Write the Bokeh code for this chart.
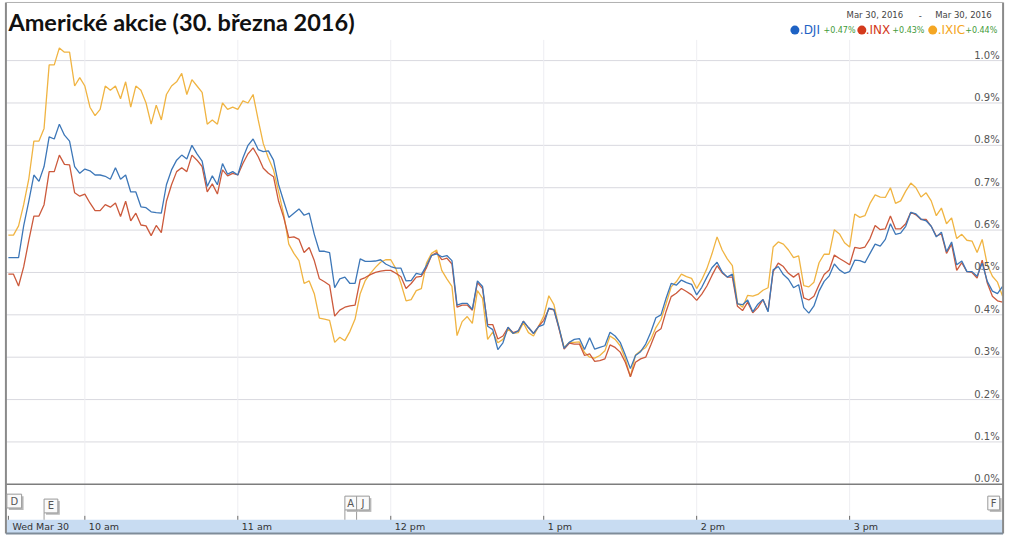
from bokeh.plotting import figure
from bokeh.models import Range1d, ColumnDataSource
from bokeh.embed import file_html
from bokeh.resources import INLINE
from bokeh.core.properties import value

# ---------------- data (percent change vs. previous close, 2-minute samples from 9:30) ----------------
minutes = list(range(0, 392, 2))  # minutes after 9:30, up to 16:00

dji = [0.535, 0.535, 0.535, 0.61, 0.668, 0.73, 0.715, 0.75, 0.82, 0.815, 0.85, 0.824, 0.81, 0.75, 0.734,
       0.744, 0.74, 0.73, 0.73, 0.727, 0.72, 0.747, 0.72, 0.73, 0.69, 0.69, 0.655, 0.653, 0.643, 0.641,
       0.64, 0.707, 0.742, 0.765, 0.777, 0.768, 0.80, 0.78, 0.763, 0.703, 0.728, 0.707, 0.757, 0.732, 0.738,
       0.73, 0.77, 0.80, 0.815, 0.79,
       0.785, 0.787, 0.765, 0.707, 0.668, 0.63, 0.64, 0.65, 0.635, 0.64, 0.59, 0.55, 0.55, 0.547, 0.464,
       0.485, 0.489, 0.474, 0.474, 0.532, 0.526, 0.526, 0.527, 0.53, 0.52, 0.514, 0.51, 0.51, 0.48, 0.481,
       0.498, 0.495, 0.516, 0.54, 0.544, 0.537, 0.54, 0.528, 0.423, 0.427, 0.427, 0.413, 0.48, 0.467, 0.373,
       0.365, 0.318, 0.334,
       0.371, 0.356, 0.362, 0.385, 0.37, 0.356, 0.372, 0.377, 0.416, 0.412, 0.37, 0.321, 0.335, 0.342, 0.344,
       0.318, 0.346, 0.319, 0.323, 0.327, 0.359, 0.35, 0.335, 0.305, 0.273, 0.304, 0.313, 0.331, 0.359, 0.393,
       0.40, 0.439, 0.474, 0.47, 0.482, 0.476, 0.472, 0.447, 0.465, 0.489, 0.511, 0.524, 0.501, 0.489, 0.496,
       0.426, 0.424,
       0.435, 0.407, 0.425, 0.436, 0.407, 0.506, 0.514, 0.495, 0.484, 0.464, 0.471, 0.417, 0.404, 0.421, 0.456,
       0.479, 0.492, 0.52, 0.506, 0.498, 0.502, 0.529, 0.528, 0.523, 0.545, 0.567, 0.562, 0.578, 0.615, 0.59,
       0.593, 0.609, 0.642, 0.638, 0.626, 0.622, 0.609, 0.584, 0.595, 0.549, 0.572, 0.518, 0.527, 0.502, 0.502,
       0.491, 0.522, 0.479, 0.456, 0.45, 0.467]

inx = [0.496, 0.496, 0.468, 0.513, 0.575, 0.633, 0.633, 0.66, 0.738, 0.738, 0.777, 0.755, 0.754, 0.688, 0.68,
       0.685, 0.664, 0.646, 0.646, 0.66, 0.654, 0.664, 0.632, 0.668, 0.622, 0.64, 0.612, 0.61, 0.587, 0.611,
       0.594, 0.668, 0.707, 0.738, 0.747, 0.738, 0.777, 0.765, 0.75, 0.69, 0.709, 0.685, 0.742, 0.728, 0.734,
       0.73, 0.757, 0.78, 0.794, 0.773,
       0.746, 0.734, 0.726, 0.668, 0.63, 0.582, 0.584, 0.578, 0.547, 0.559, 0.528, 0.485, 0.478, 0.47, 0.397,
       0.411, 0.418, 0.421, 0.423, 0.483, 0.488, 0.495, 0.50, 0.503, 0.505, 0.505, 0.498, 0.49, 0.462, 0.474,
       0.489, 0.491, 0.511, 0.54, 0.547, 0.53, 0.534, 0.52, 0.418, 0.423, 0.423, 0.411, 0.476, 0.462, 0.377,
       0.377, 0.343, 0.35,
       0.37, 0.358, 0.362, 0.385, 0.37, 0.356, 0.373, 0.387, 0.414, 0.412, 0.367, 0.319, 0.333, 0.331, 0.331,
       0.304, 0.308, 0.29, 0.292, 0.296, 0.329, 0.323, 0.312, 0.288, 0.254, 0.288, 0.296, 0.30, 0.329, 0.359,
       0.367, 0.408, 0.443, 0.451, 0.462, 0.455, 0.447, 0.434, 0.449, 0.468, 0.493, 0.516, 0.499, 0.489, 0.489,
       0.42, 0.41,
       0.43, 0.405, 0.417, 0.436, 0.409, 0.502, 0.522, 0.514, 0.498, 0.489, 0.498, 0.44, 0.435, 0.444, 0.471,
       0.495, 0.506, 0.541, 0.533, 0.526, 0.518, 0.559, 0.557, 0.56, 0.58, 0.611, 0.601, 0.603, 0.633, 0.603,
       0.603, 0.615, 0.642, 0.636, 0.625, 0.625, 0.609, 0.586, 0.591, 0.545, 0.567, 0.505, 0.523, 0.502, 0.5,
       0.487, 0.529, 0.475, 0.444, 0.433, 0.43]

ixic = [0.588, 0.588, 0.61, 0.66, 0.72, 0.81, 0.81, 0.84, 0.99, 0.99, 1.03, 1.02, 1.02, 0.94, 0.96,
        0.94, 0.89, 0.87, 0.885, 0.94, 0.93, 0.94, 0.91, 0.95, 0.89, 0.94, 0.93, 0.90, 0.85, 0.895,
        0.86, 0.92, 0.94, 0.95, 0.97, 0.92, 0.955, 0.94, 0.925, 0.85, 0.86, 0.85, 0.90, 0.885, 0.89,
        0.885, 0.905, 0.90, 0.92, 0.86,
        0.804, 0.77, 0.742, 0.69, 0.637, 0.567, 0.545, 0.528, 0.474, 0.48, 0.45, 0.392, 0.39, 0.387, 0.335,
        0.347, 0.339, 0.361, 0.39, 0.45, 0.481, 0.498, 0.512, 0.524, 0.53, 0.53, 0.509, 0.474, 0.433, 0.436,
        0.457, 0.462, 0.522, 0.545, 0.553, 0.505, 0.485, 0.467, 0.351, 0.384, 0.396, 0.38, 0.457, 0.439, 0.342,
        0.359, 0.334, 0.342,
        0.366, 0.356, 0.358, 0.381, 0.358, 0.35, 0.373, 0.397, 0.445, 0.424, 0.37, 0.323, 0.335, 0.335, 0.336,
        0.311, 0.30, 0.298, 0.304, 0.315, 0.35, 0.342, 0.327, 0.296, 0.254, 0.305, 0.315, 0.323, 0.342, 0.37,
        0.389, 0.426, 0.466, 0.478, 0.496, 0.49, 0.486, 0.462, 0.483, 0.509, 0.544, 0.584, 0.553, 0.532, 0.516,
        0.428, 0.418,
        0.446, 0.444, 0.448, 0.458, 0.464, 0.56, 0.572, 0.567, 0.553, 0.535, 0.539, 0.469, 0.466, 0.477, 0.523,
        0.543, 0.543, 0.601, 0.591, 0.57, 0.56, 0.638, 0.63, 0.634, 0.663, 0.683, 0.678, 0.677, 0.70, 0.663,
        0.669, 0.692, 0.711, 0.70, 0.678, 0.688, 0.669, 0.634, 0.652, 0.615, 0.629, 0.58, 0.59, 0.576, 0.574,
        0.547, 0.578, 0.518, 0.491, 0.477, 0.444]

series_names = [".DJI", ".INX", ".IXIC"]
series_changes = ["+0.47%", "+0.43%", "+0.44%"]

y_ticks = [0.0, 0.1, 0.2, 0.3, 0.4, 0.5, 0.6, 0.7, 0.8, 0.9, 1.0]
y_tick_labels = ["0.0%", "0.1%", "0.2%", "0.3%", "0.4%", "0.5%", "0.6%", "0.7%", "0.8%", "0.9%", "1.0%"]

x_ticks = [0, 30, 90, 150, 210, 270, 330]
x_tick_labels = ["Wed Mar 30", "10 am", "11 am", "12 pm", "1 pm", "2 pm", "3 pm"]

flag_times = [-0.6, 14, 132, 136.6, 384.2]
flag_labels = ["D", "E", "A", "J", "F"]

title_text = "Americké akcie (30. března 2016)"
date_from = "Mar 30, 2016"
date_to = "Mar 30, 2016"

assert len(dji) == len(minutes) and len(inx) == len(minutes) and len(ixic) == len(minutes)

# ---------------- layout helpers (reference-picture pixels -> data coordinates) ----------------
W, H = 1008, 538
PX_PER_MIN = 1010 / 390.0   # horizontal scale of the time axis
PX_PER_PCT = 430.0          # vertical scale: pixels per 1 %


def xd(px):
    return (px - 8) / PX_PER_MIN


def yd(py):
    return (491 - py) / PX_PER_PCT


def wd(pxw):
    return pxw / PX_PER_MIN


def hd(pxh):
    return pxh / PX_PER_PCT


p = figure(width=W, height=H, x_range=Range1d(xd(0), xd(1024)), y_range=Range1d(yd(546), yd(0)),
           output_backend="svg", toolbar_location=None, min_border=0,
           x_axis_location=None, y_axis_location=None, outline_line_color=None,
           background_fill_color="white", border_fill_color="white")
p.grid.visible = False

FONT = value("DejaVu Sans")
L, R = xd(5.5), xd(1018.5)

# horizontal gridlines
n = len(y_ticks) - 1
p.segment(x0=[L] * n, x1=[R] * n, y0=y_ticks[1:], y1=y_ticks[1:], line_color="#d9d9df", line_width=1)
# vertical gridlines (hours)
hours = x_ticks[1:]
p.segment(x0=hours, x1=hours, y0=[yd(523)] * len(hours), y1=[yd(40)] * len(hours),
          line_color="#eeeef2", line_width=1)

# series lines
src = ColumnDataSource(dict(t=minutes, dji=dji, inx=inx, ixic=ixic))
p.line("t", "ixic", source=src, line_color="#f0b442", line_width=1.3)
p.line("t", "inx", source=src, line_color="#cc5a3c", line_width=1.3)
p.line("t", "dji", source=src, line_color="#3d77b8", line_width=1.3)

# zero baseline
p.segment(x0=[L], x1=[R], y0=[0], y1=[0], line_color="#7d7d7d", line_width=1.5)

# y labels inside the plot, right aligned above the gridlines
p.text(x=[xd(1015)] * len(y_ticks), y=y_ticks, text=y_tick_labels,
       text_align="right", text_baseline="bottom", text_font=FONT, text_font_size="10px",
       text_color="#555555")

# time band at the bottom
p.quad(left=[L], right=[R], bottom=[yd(541)], top=[yd(527)], fill_color="#c8dcf2", line_color=None)
p.segment(x0=x_ticks, x1=x_ticks, y0=[yd(523)] * len(x_ticks), y1=[yd(527)] * len(x_ticks),
          line_color="#666666", line_width=1)
p.text(x=x_ticks, y=[yd(534)] * len(x_ticks), text=x_tick_labels, x_offset=4,
       text_align="left", text_baseline="middle", text_font=FONT, text_font_size="9.5px",
       text_color="#333333")

# outer frame
p.segment(x0=[L, R, L, L], x1=[L, R, R, R], y0=[yd(2), yd(2), yd(2), yd(541)],
          y1=[yd(541), yd(541), yd(2), yd(541)],
          line_color=["#8a8a8a", "#8a8a8a", "#b0b0b0", "#7f8c99"], line_width=[2, 2, 1, 2])

# news flags
flag_top_px = [501, 506, 503, 503, 503]
flag_w_px = [15, 14, 12, 13, 12]
fh = 14
lefts = list(flag_times)
rights = [t + wd(w) for t, w in zip(flag_times, flag_w_px)]
tops = [yd(py) for py in flag_top_px]
bottoms = [yd(py + fh) for py in flag_top_px]
stem_idx = [1, 2, 3]
p.segment(x0=[flag_times[i] for i in stem_idx], x1=[flag_times[i] for i in stem_idx],
          y0=[bottoms[i] for i in stem_idx], y1=[yd(527)] * len(stem_idx), line_color="#9a9a9a", line_width=1)
p.quad(left=[l + wd(2) for l in lefts], right=[r + wd(2) for r in rights],
       top=[t - hd(2) for t in tops], bottom=[b - hd(2) for b in bottoms],
       fill_color="#b8b8b8", line_color=None)
p.quad(left=lefts, right=rights, top=tops, bottom=bottoms,
       fill_color="#fafafa", line_color="#9a9a9a", line_width=1)
p.text(x=[(l + r) / 2 for l, r in zip(lefts, rights)], y=[(t + b) / 2 for t, b in zip(tops, bottoms)],
       text=flag_labels, text_align="center", text_baseline="middle", text_font=FONT,
       text_font_size="10px", text_color="#555555")

# title
p.text(x=[xd(8)], y=[yd(22)], text=[title_text], text_align="left", text_baseline="middle",
       text_font=value("Lato"), text_font_style="bold", text_font_size="23.5px", text_color="#111111")

# date range
p.text(x=[xd(917), xd(1007)], y=[yd(15)] * 2, text=[date_from, date_to], text_align="right",
       text_baseline="middle", text_font=FONT, text_font_size="8.5px", text_color="#444444")
p.text(x=[xd(934.5)], y=[yd(15)], text=["-"], text_align="center",
       text_baseline="middle", text_font=FONT, text_font_size="8.5px", text_color="#444444")

# legend line: dot, name, change
dot_px = [807, 875, 947]
name_px = [812, 879, 952]
chg_px = [836, 906, 980]
dot_colors = ["#1e62c4", "#d33a1c", "#f4a623"]
p.scatter(x=[xd(v) for v in dot_px], y=[yd(30)] * 3, size=9, marker="circle",
          fill_color=dot_colors, line_color=None)
p.text(x=[xd(v) for v in name_px], y=[yd(30)] * 3, text=series_names, text_align="left",
       text_baseline="middle", text_font=FONT, text_font_size="12px", text_color=dot_colors)
p.text(x=[xd(v) for v in chg_px], y=[yd(30.5)] * 3, text=series_changes, text_align="left",
       text_baseline="middle", text_font=FONT, text_font_size="8px", text_color="#3f9a3a")

open("out.html", "w").write(file_html(p, INLINE))
